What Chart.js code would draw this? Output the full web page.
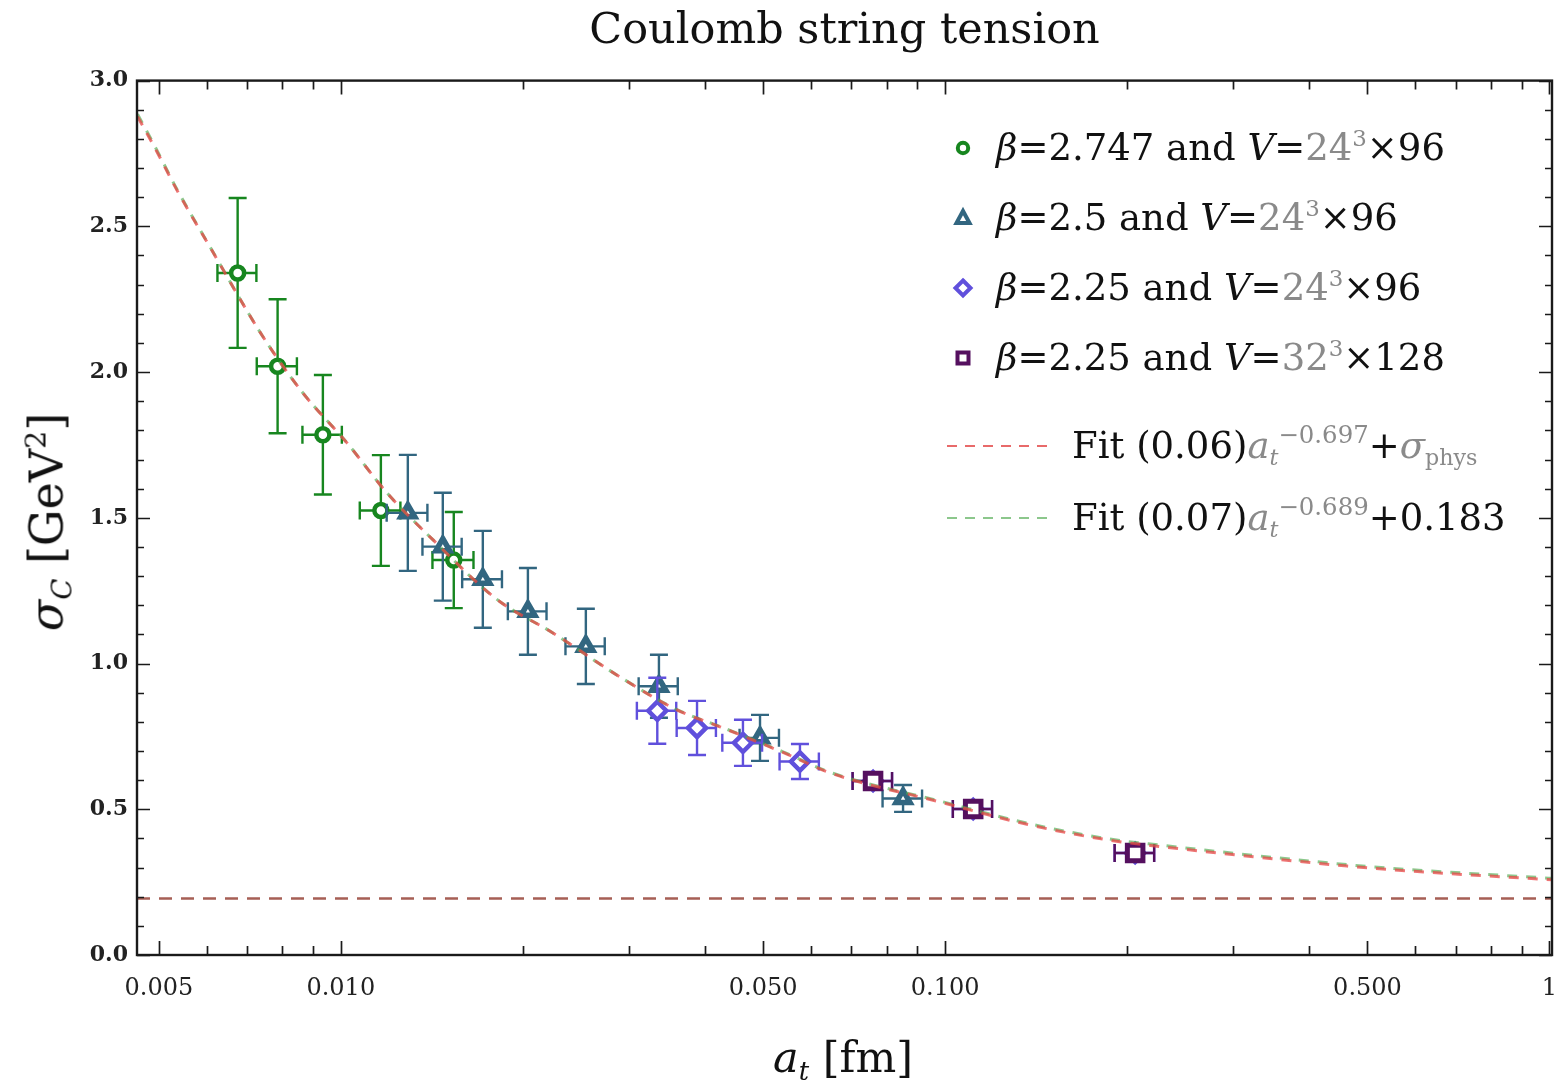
<!DOCTYPE html>
<html>
<head>
<meta charset="utf-8">
<title>Coulomb string tension</title>
<script src="https://cdn.jsdelivr.net/npm/chart.js@4.4.1/dist/chart.umd.min.js"></script>
<style>
  body { margin: 0; background: #fff; }
  #wrap { position: relative; width: 1558px; height: 1088px; font-family: "DejaVu Serif", serif; color: #111; }
  #wrap canvas { position: absolute; left: 0; top: 0; }
  .lab { position: absolute; white-space: nowrap; font-size: 37px; line-height: 44px; }
  .g { color: #8a8a8a; }
  .sub { font-size: 0.6em; position: relative; top: 0.32em; }
  .sup { font-size: 0.66em; position: relative; top: -0.62em; }
  .cube { font-size: 0.62em; position: relative; top: -0.6em; }
  .mk { position: absolute; }
  .axt { position: absolute; white-space: nowrap; line-height: 52px; }
</style>
</head>
<body>
<div id="wrap">
  <canvas id="chart" width="1558" height="1088"></canvas>

  <div class="axt" style="left:50px; top:522px; font-size:46px; transform: translate(-50%,-50%) rotate(-90deg);"><i>σ</i><span class="sub"><i>C</i></span> [GeV<span class="cube">2</span>]</div>
  <div class="axt" style="left:843px; top:1060px; font-size:43px; transform: translate(-50%,-50%);"><i>a</i><span class="sub"><i>t</i></span> [fm]</div>

  <!-- legend -->
  <svg class="mk" style="left:951px; top:136px" width="24" height="24"><circle cx="12" cy="12" r="5.2" fill="#fff" stroke="#17861f" stroke-width="4"/></svg>
  <div class="lab" style="left:996px; top:126px"><i>β</i>=2.747 and <i>V</i>=<span class="g">24<span class="cube">3</span></span>×96</div>

  <svg class="mk" style="left:951px; top:206px" width="24" height="24"><polygon points="12,5 18.5,17 5.5,17" fill="#fff" stroke="#326680" stroke-width="4" stroke-linejoin="miter"/></svg>
  <div class="lab" style="left:996px; top:196px"><i>β</i>=2.5 and <i>V</i>=<span class="g">24<span class="cube">3</span></span>×96</div>

  <svg class="mk" style="left:951px; top:276px" width="24" height="24"><polygon points="12,4.5 19.5,12 12,19.5 4.5,12" fill="#fff" stroke="#6050dc" stroke-width="4"/></svg>
  <div class="lab" style="left:996px; top:266px"><i>β</i>=2.25 and <i>V</i>=<span class="g">24<span class="cube">3</span></span>×96</div>

  <svg class="mk" style="left:951px; top:346px" width="24" height="24"><rect x="6.5" y="6.5" width="11" height="11" fill="#fff" stroke="#55105f" stroke-width="4"/></svg>
  <div class="lab" style="left:996px; top:336px"><i>β</i>=2.25 and <i>V</i>=<span class="g">32<span class="cube">3</span></span>×128</div>

  <svg class="mk" style="left:945px; top:436px" width="106" height="20"><line x1="2" y1="10" x2="104" y2="10" stroke="#e86a6a" stroke-width="2" stroke-dasharray="10 8"/></svg>
  <div class="lab" style="left:1072px; top:424px">Fit (0.06)<span class="g"><i>a</i><span class="sub"><i>t</i></span><span class="sup">−0.697</span></span>+<span class="g"><i>σ</i><span class="sub">phys</span></span></div>

  <svg class="mk" style="left:945px; top:508px" width="106" height="20"><line x1="2" y1="10" x2="104" y2="10" stroke="#8cc78c" stroke-width="2" stroke-dasharray="10 8"/></svg>
  <div class="lab" style="left:1072px; top:496px">Fit (0.07)<span class="g"><i>a</i><span class="sub"><i>t</i></span><span class="sup">−0.689</span></span>+0.183</div>
</div>

<script>
// beta = 2.747, V = 24^3 x 96
const b2747X  = [0.00675, 0.00786, 0.00934, 0.01165, 0.01538];
const b2747Y  = [2.34, 2.02, 1.785, 1.525, 1.355];
const b2747Ex = [0.0005, 0.0006, 0.0007, 0.0009, 0.0012];
const b2747Ey = [0.257, 0.23, 0.205, 0.19, 0.165];

// beta = 2.5, V = 24^3 x 96
const b25X  = [0.01291, 0.01475, 0.01718, 0.0204, 0.02544, 0.03361, 0.0494, 0.0852];
const b25Y  = [1.517, 1.401, 1.289, 1.179, 1.059, 0.922, 0.745, 0.537];
const b25Ex = [0.0010, 0.0011, 0.0013, 0.0015, 0.0019, 0.0025, 0.0037, 0.0064];
const b25Ey = [0.199, 0.185, 0.166, 0.149, 0.129, 0.108, 0.079, 0.046];

// beta = 2.25, V = 24^3 x 96
const b225X  = [0.0334, 0.03886, 0.04629, 0.05752, 0.0760, 0.1113, 0.2063];
const b225Y  = [0.838, 0.779, 0.728, 0.664, 0.597, 0.501, 0.350];
const b225Ex = [0.0025, 0.0029, 0.0035, 0.0043, 0.0057, 0.0083, 0.0155];
const b225Ey = [0.113, 0.093, 0.079, 0.06, 0.025, 0.02, 0.02];

// beta = 2.25, V = 32^3 x 128
const b225LX  = [0.0760, 0.1113, 0.2063];
const b225LY  = [0.597, 0.501, 0.350];
const b225LEx = [0.0057, 0.0083, 0.0155];
const b225LEy = [0.025, 0.02, 0.02];

// fit curves
const fitX     = [0.00461, 0.00496, 0.00535, 0.00607, 0.00743, 0.00865, 0.01023, 0.01192, 0.0142, 0.01813, 0.02244, 0.02897, 0.03599, 0.04241, 0.05393, 0.0645, 0.09811, 0.1382, 0.1897, 0.2296, 0.3236, 0.4629, 0.5516, 1.01];
const fitRed   = [2.877, 2.757, 2.626, 2.43, 2.122, 1.929, 1.758, 1.586, 1.425, 1.22, 1.105, 0.954, 0.841, 0.783, 0.695, 0.625, 0.525, 0.446, 0.392, 0.371, 0.337, 0.305, 0.292, 0.258];
const fitGreen = [2.885, 2.762, 2.629, 2.431, 2.122, 1.929, 1.758, 1.586, 1.425, 1.22, 1.105, 0.954, 0.842, 0.784, 0.697, 0.627, 0.528, 0.45, 0.396, 0.376, 0.342, 0.31, 0.297, 0.263];
const sigmaPhys = 0.1936;

const xMin = 0.0046, xMax = 1.01;
const xTicks = [0.005, 0.006, 0.007, 0.008, 0.009, 0.01, 0.02, 0.03, 0.04, 0.05, 0.06, 0.07, 0.08, 0.09, 0.1, 0.2, 0.3, 0.4, 0.5, 0.6, 0.7, 0.8, 0.9, 1];
const xMajor = [0.005, 0.01, 0.05, 0.1, 0.5, 1];
const xTickLabels = ['0.005', '0.010', '0.050', '0.100', '0.500', '1'];
const yTicks = [0, 0.1, 0.2, 0.3, 0.4, 0.5, 0.6, 0.7, 0.8, 0.9, 1, 1.1, 1.2, 1.3, 1.4, 1.5, 1.6, 1.7, 1.8, 1.9, 2, 2.1, 2.2, 2.3, 2.4, 2.5, 2.6, 2.7, 2.8, 2.9, 3];
const yMajor = [0, 0.5, 1, 1.5, 2, 2.5, 3];
const yTickLabels = ['0.0', '0.5', '1.0', '1.5', '2.0', '2.5', '3.0'];

const pts = (xs, ys) => xs.map((x, i) => ({x: x, y: ys[i]}));
const majorIndex = (list, v) => list.findIndex(m => Math.abs(m - v) < 1e-9 + 1e-6 * Math.abs(m));

// error bars go under each series' own markers
const errorBars = {
  id: 'errorBars',
  beforeDatasetDraw(chart, args) {
    const ds = chart.data.datasets[args.index];
    if (!ds.errX) return;
    const ctx = chart.ctx, xs = chart.scales.x, ys = chart.scales.y;
    const cap = 9;
    ctx.save();
    ctx.strokeStyle = ds.borderColor;
    ctx.lineWidth = 2.4;
    ds.data.forEach((p, j) => {
      const px = xs.getPixelForValue(p.x), py = ys.getPixelForValue(p.y);
      const y0 = ys.getPixelForValue(p.y - ds.errY[j]), y1 = ys.getPixelForValue(p.y + ds.errY[j]);
      const x0 = xs.getPixelForValue(p.x - ds.errX[j]), x1 = xs.getPixelForValue(p.x + ds.errX[j]);
      ctx.beginPath();
      ctx.moveTo(px, y0); ctx.lineTo(px, y1);
      ctx.moveTo(px - cap, y0); ctx.lineTo(px + cap, y0);
      ctx.moveTo(px - cap, y1); ctx.lineTo(px + cap, y1);
      ctx.moveTo(x0, py); ctx.lineTo(x1, py);
      ctx.moveTo(x0, py - cap); ctx.lineTo(x0, py + cap);
      ctx.moveTo(x1, py - cap); ctx.lineTo(x1, py + cap);
      ctx.stroke();
    });
    ctx.restore();
  }
};

// Mathematica-style frame with inward ticks on all four sides
const frame = {
  id: 'frame',
  afterDraw(chart) {
    const ctx = chart.ctx, a = chart.chartArea, xs = chart.scales.x, ys = chart.scales.y;
    ctx.save();
    ctx.strokeStyle = '#1a1a1a';
    ctx.lineWidth = 1.7;
    ctx.beginPath();
    xTicks.forEach(v => {
      const px = Math.round(xs.getPixelForValue(v)) + 0.5;
      const len = majorIndex(xMajor, v) >= 0 ? 14 : 9;
      ctx.moveTo(px, a.bottom); ctx.lineTo(px, a.bottom - len);
      ctx.moveTo(px, a.top); ctx.lineTo(px, a.top + len);
    });
    yTicks.forEach(v => {
      const py = Math.round(ys.getPixelForValue(v)) + 0.5;
      const len = majorIndex(yMajor, v) >= 0 ? 13 : 7;
      ctx.moveTo(a.left, py); ctx.lineTo(a.left + len, py);
      ctx.moveTo(a.right, py); ctx.lineTo(a.right - len, py);
    });
    ctx.stroke();
    ctx.lineWidth = 2.4;
    ctx.strokeRect(a.left, a.top, a.right - a.left, a.bottom - a.top);
    ctx.restore();
  }
};

new Chart(document.getElementById('chart'), {
  type: 'scatter',
  data: {
    datasets: [
      {
        label: 'Fit (0.06) a_t^-0.697 + sigma_phys',
        data: pts(fitX, fitRed),
        showLine: true, pointRadius: 0,
        borderColor: 'rgba(232, 70, 70, 0.75)', borderWidth: 3, borderDash: [10, 9],
        cubicInterpolationMode: 'monotone', order: 0
      },
      {
        label: 'Fit (0.07) a_t^-0.689 + 0.183',
        data: pts(fitX, fitGreen),
        showLine: true, pointRadius: 0,
        borderColor: 'rgba(80, 170, 80, 0.65)', borderWidth: 3, borderDash: [10, 9],
        cubicInterpolationMode: 'monotone', order: 1
      },
      {
        label: 'beta=2.25 and V=32^3x128',
        data: pts(b225LX, b225LY), errX: b225LEx, errY: b225LEy,
        pointStyle: 'rect', pointRadius: 11, borderWidth: 5,
        borderColor: '#55105f', backgroundColor: '#fff', order: 2
      },
      {
        label: 'beta=2.25 and V=24^3x96',
        data: pts(b225X, b225Y), errX: b225Ex, errY: b225Ey,
        pointStyle: 'rectRot', pointRadius: 9, borderWidth: 4.5,
        borderColor: '#6050dc', backgroundColor: '#fff', order: 3
      },
      {
        label: 'beta=2.5 and V=24^3x96',
        data: pts(b25X, b25Y), errX: b25Ex, errY: b25Ey,
        pointStyle: 'triangle', pointRadius: 8, borderWidth: 5.5,
        borderColor: '#326680', backgroundColor: '#fff', order: 4
      },
      {
        label: 'beta=2.747 and V=24^3x96',
        data: pts(b2747X, b2747Y), errX: b2747Ex, errY: b2747Ey,
        pointStyle: 'circle', pointRadius: 6.5, borderWidth: 4.5,
        borderColor: '#17861f', backgroundColor: '#fff', order: 5
      },
      {
        label: 'sigma_phys',
        data: [{x: xMin, y: sigmaPhys}, {x: xMax, y: sigmaPhys}],
        showLine: true, pointRadius: 0,
        borderColor: '#a65f55', borderWidth: 2.5, borderDash: [13, 9], order: 6
      }
    ]
  },
  options: {
    responsive: false,
    animation: false,
    layout: { autoPadding: false, padding: { left: 0, right: 6, top: 0, bottom: 0 } },
    plugins: {
      legend: { display: false },
      tooltip: { enabled: false },
      title: {
        display: true,
        fullSize: false,
        text: 'Coulomb string tension',
        color: '#111',
        font: { family: 'DejaVu Serif', size: 43, weight: 'normal' },
        padding: { top: 6, bottom: 23 }
      }
    },
    scales: {
      x: {
        type: 'logarithmic',
        min: xMin, max: xMax,
        afterBuildTicks: s => { s.ticks = xTicks.map(v => ({ value: v })); },
        afterFit: s => { s.height = 133; s.paddingLeft = 0; s.paddingRight = 0; },
        grid: { display: false, drawTicks: false },
        border: { display: false },
        ticks: {
          autoSkip: false, maxRotation: 0, padding: 19,
          color: '#222',
          font: { family: 'DejaVu Serif', size: 24 },
          callback: v => { const k = majorIndex(xMajor, v); return k >= 0 ? xTickLabels[k] : ''; }
        }
      },
      y: {
        type: 'linear',
        min: 0, max: 3,
        afterBuildTicks: s => { s.ticks = yTicks.map(v => ({ value: v })); },
        afterFit: s => { s.width = 137; s.paddingTop = 0; s.paddingBottom = 0; },
        grid: { display: false, drawTicks: false },
        border: { display: false },
        ticks: {
          autoSkip: false, padding: 9,
          color: '#222',
          font: { family: 'DejaVu Serif', size: 22, weight: 'bold' },
          callback: v => { const k = majorIndex(yMajor, v); return k >= 0 ? yTickLabels[k] : ''; }
        }
      }
    }
  },
  plugins: [errorBars, frame]
});
</script>
</body>
</html>
